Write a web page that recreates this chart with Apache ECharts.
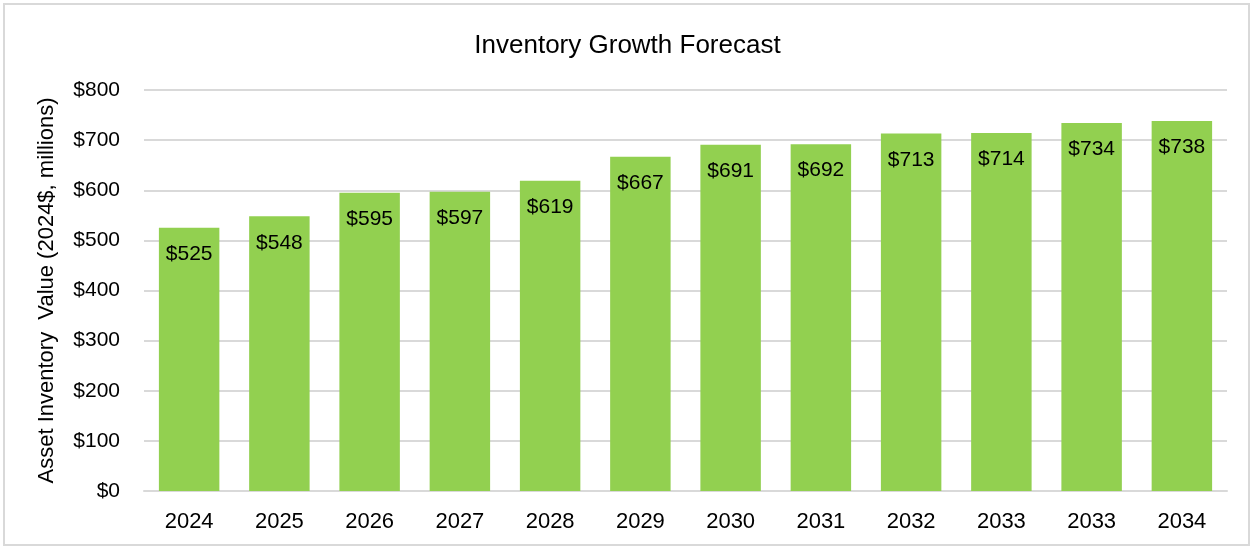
<!DOCTYPE html>
<html><head><meta charset="utf-8">
<script src="https://cdn.jsdelivr.net/npm/echarts@6/dist/echarts.min.js"></script>
<style>
html,body{margin:0;padding:0;background:#fff;}
#wrap{position:absolute;left:3px;top:3px;width:1247px;height:543px;border:2px solid #d9d9d9;box-sizing:border-box;}
#chart{position:absolute;left:0;top:0;width:1255px;height:550px;}
</style></head>
<body>
<div id="wrap"></div>
<div id="chart"></div>
<script>
const categories = ['2024','2025','2026','2027','2028','2029','2030','2031','2032','2033','2033','2034'];
const values = [525,548,595,597,619,667,691,692,713,714,734,738];
const yTicks = [0,100,200,300,400,500,600,700,800];
const titleText = 'Inventory Growth Forecast';
const yAxisName = 'Asset Inventory  Value (2024$, millions)';

const FONT = "'Liberation Sans Narrow','Arial Narrow','Liberation Sans',Arial,sans-serif";
const chart = echarts.init(document.getElementById('chart'), null, {renderer:'canvas'});
chart.setOption({
  backgroundColor: 'transparent',
  animation: false,
  title: {text: titleText, left: 'center', top: 28, textStyle: {fontFamily: FONT, fontSize: 26, fontWeight: 'normal', color: '#000'}},
  grid: {left: 144, right: 28, top: 90, bottom: 59, containLabel: false},
  xAxis: {
    type: 'category', data: categories,
    axisLine: {show: true, lineStyle: {color: '#d9d9d9', width: 2}},
    axisTick: {show: false},
    axisLabel: {fontFamily: FONT, fontSize: 22, color: '#000', margin: 20}
  },
  yAxis: {
    type: 'value', min: yTicks[0], max: yTicks[yTicks.length-1], interval: 100,
    name: yAxisName, nameLocation: 'middle', nameGap: 86,
    nameTextStyle: {fontFamily: FONT, fontSize: 22, color: '#000'},
    axisLine: {show: false}, axisTick: {show: false},
    splitLine: {lineStyle: {color: '#d9d9d9', width: 2}},
    axisLabel: {fontFamily: FONT, fontSize: 21, color: '#000', margin: 24, formatter: v => '$' + v}
  },
  series: [{
    type: 'bar', data: values, barCategoryGap: '33%',
    itemStyle: {color: '#92d050'},
    label: {show: true, position: 'insideTop', distance: 16, fontFamily: FONT, fontSize: 21, color: '#000', formatter: p => '$' + p.value}
  }]
});
</script>
</body></html>
